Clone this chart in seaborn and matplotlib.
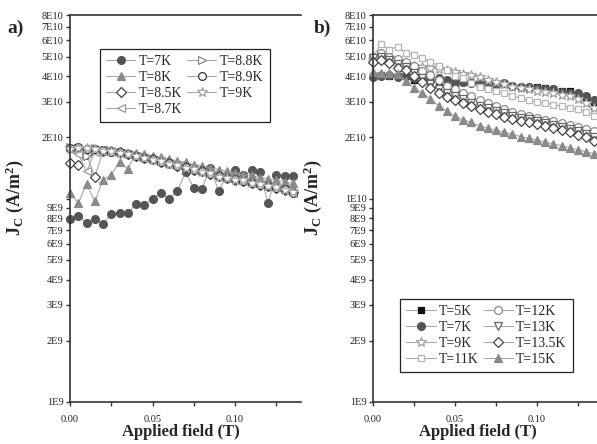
import seaborn as sns
import matplotlib.pyplot as plt
from matplotlib.ticker import FixedLocator, FixedFormatter, NullLocator

# field values (T), same grid for every curve
field = [0.000, 0.005, 0.010, 0.015, 0.020, 0.025, 0.030, 0.035, 0.040, 0.045,
         0.050, 0.055, 0.060, 0.065, 0.070, 0.075, 0.080, 0.085, 0.090, 0.095,
         0.100, 0.105, 0.110, 0.115, 0.120, 0.125, 0.130, 0.135]

# panel a, Jc in units of 1E10 A/m2
a_7K = [0.79, 0.825, 0.76, 0.79, 0.75, 0.84, 0.85, 0.85, 0.94, 0.93, 1.00, 1.07, 1.00, 1.09,
        1.35, 1.13, 1.12, 1.42, 1.09, 1.30, 1.39, 1.30, 1.39, 1.35, 0.95, 1.30, 1.29, 1.29]
a_8K = [1.07, 0.95, 1.18, 0.97, 1.24, 1.31, 1.52, 1.40, 1.68, 1.66, 1.63, 1.60, 1.57, 1.53,
        1.51, 1.47, 1.45, 1.42, 1.39, 1.36, 1.34, 1.31, 1.30, 1.27, 1.25, 1.23, 1.21, 1.19]
a_85K = [1.49, 1.47, 1.65, 1.28, 1.71, 1.72, 1.70, 1.66, 1.63, 1.58, 1.56, 1.52, 1.49, 1.45,
         1.43, 1.39, 1.36, 1.32, 1.29, 1.27, 1.24, 1.22, 1.20, 1.17, 1.15, 1.13, 1.10, 1.08]
a_87K = [1.76, 1.66, 1.36, 1.70, 1.73, 1.71, 1.68, 1.66, 1.62, 1.59, 1.55, 1.53, 1.48, 1.46,
         1.42, 1.40, 1.35, 1.33, 1.29, 1.26, 1.25, 1.22, 1.19, 1.18, 1.15, 1.14, 1.11, 1.07]
a_88K = [1.80, 1.77, 1.62, 1.78, 1.74, 1.72, 1.70, 1.67, 1.64, 1.60, 1.57, 1.54, 1.50, 1.47,
         1.44, 1.41, 1.37, 1.34, 1.30, 1.28, 1.26, 1.24, 1.21, 1.19, 1.17, 1.15, 1.12, 1.09]
a_89K = [1.78, 1.79, 1.76, 1.75, 1.73, 1.70, 1.69, 1.65, 1.63, 1.58, 1.56, 1.52, 1.49, 1.45,
         1.43, 1.39, 1.36, 1.32, 1.29, 1.26, 1.25, 1.22, 1.20, 1.17, 1.16, 1.13, 1.11, 1.07]
a_9K = [1.76, 1.78, 1.77, 1.76, 1.72, 1.71, 1.68, 1.66, 1.62, 1.59, 1.55, 1.53, 1.48, 1.46,
        1.42, 1.40, 1.35, 1.33, 1.28, 1.27, 1.24, 1.23, 1.19, 1.18, 1.15, 1.14, 1.10, 1.08]

# panel b
b_5K = [4.00, 4.05, 4.00, 4.00, 4.00, 3.85, 3.85, 3.95, 3.80, 3.75, 3.60, 3.75, 3.70, 3.60,
        3.55, 3.60, 3.65, 3.60, 3.55, 3.50, 3.55, 3.50, 3.45, 3.40, 3.40, 3.25, 3.15, 2.85]
b_7K = [3.95, 4.00, 4.05, 3.95, 4.00, 3.90, 3.95, 3.80, 3.90, 3.85, 3.80, 3.75, 3.70, 3.75,
        3.70, 3.65, 3.70, 3.60, 3.55, 3.55, 3.50, 3.45, 3.45, 3.35, 3.30, 3.30, 3.20, 3.05]
b_9K = [4.80, 5.00, 4.90, 4.70, 4.60, 4.50, 4.45, 4.40, 4.35, 4.30, 4.20, 4.10, 4.05, 3.95,
        3.85, 3.75, 3.65, 3.55, 3.50, 3.45, 3.40, 3.35, 3.30, 3.25, 3.20, 3.10, 2.95, 2.80]
b_11K = [5.00, 5.75, 5.40, 5.60, 5.20, 5.10, 4.90, 4.70, 4.50, 4.30, 4.00, 3.90, 3.70, 3.55,
         3.45, 3.38, 3.30, 3.20, 3.12, 3.05, 3.00, 2.95, 2.90, 2.85, 2.80, 2.75, 2.68, 2.55]
b_12K = [5.00, 5.20, 5.00, 4.85, 4.70, 4.50, 4.25, 4.05, 3.85, 3.60, 3.45, 3.30, 3.20, 3.05,
         2.95, 2.85, 2.75, 2.68, 2.62, 2.56, 2.50, 2.45, 2.40, 2.35, 2.30, 2.25, 2.20, 2.15]
b_13K = [4.90, 4.95, 4.80, 4.60, 4.45, 4.15, 3.90, 3.65, 3.45, 3.30, 3.20, 3.10, 2.95, 2.85,
         2.78, 2.70, 2.63, 2.56, 2.50, 2.46, 2.41, 2.36, 2.31, 2.26, 2.20, 2.14, 2.08, 2.00]
b_135K = [4.70, 4.80, 4.65, 4.40, 4.30, 4.00, 3.75, 3.50, 3.30, 3.17, 3.07, 2.97, 2.85, 2.75,
          2.67, 2.60, 2.53, 2.47, 2.42, 2.38, 2.33, 2.28, 2.23, 2.18, 2.12, 2.06, 2.00, 1.92]
b_15K = [4.20, 4.15, 4.15, 4.10, 3.80, 3.50, 3.30, 3.10, 2.86, 2.70, 2.54, 2.44, 2.37, 2.28,
         2.22, 2.17, 2.12, 2.07, 2.02, 1.98, 1.94, 1.90, 1.86, 1.82, 1.78, 1.74, 1.70, 1.66]

ytick_vals = [1e9, 2e9, 3e9, 4e9, 5e9, 6e9, 7e9, 8e9, 9e9,
              1e10, 2e10, 3e10, 4e10, 5e10, 6e10, 7e10, 8e10]
ytick_labels = ["1E9", "2E9", "3E9", "4E9", "5E9", "6E9", "7E9", "8E9", "9E9",
                "1E10", "2E10", "3E10", "4E10", "5E10", "6E10", "7E10", "8E10"]
xtick_vals = [0.00, 0.05, 0.10]
xtick_labels = ["0.00", "0.05", "0.10"]

# (label, values, marker, face, edge)
series_a = [
    ("T=7K", a_7K, "o", "#555555", "#555555"),
    ("T=8K", a_8K, "^", "#8a8a8a", "#8a8a8a"),
    ("T=8.5K", a_85K, "D", "white", "#444444"),
    ("T=8.7K", a_87K, "<", "white", "#9a9a9a"),
    ("T=8.8K", a_88K, ">", "white", "#8a8a8a"),
    ("T=8.9K", a_89K, "o", "white", "#333333"),
    ("T=9K", a_9K, "*", "white", "#a0a0a0"),
]
series_b = [
    ("T=5K", b_5K, "s", "#111111", "#111111"),
    ("T=7K", b_7K, "o", "#555555", "#555555"),
    ("T=9K", b_9K, "*", "white", "#a0a0a0"),
    ("T=11K", b_11K, "s", "white", "#b5b5b5"),
    ("T=12K", b_12K, "o", "white", "#8a8a8a"),
    ("T=13K", b_13K, "v", "white", "#666666"),
    ("T=13.5K", b_135K, "D", "white", "#444444"),
    ("T=15K", b_15K, "^", "#8a8a8a", "#8a8a8a"),
]

sns.set_theme(style="ticks")
plt.rcParams['font.family'] = ['Liberation Serif', 'DejaVu Serif']
plt.rcParams['mathtext.fontset'] = 'custom'
plt.rcParams['mathtext.rm'] = 'Liberation Serif:bold'
plt.rcParams['mathtext.it'] = 'Liberation Serif:bold'

fig = plt.figure(figsize=(5.97, 4.44), dpi=100)
ax_a = fig.add_axes([0.1173, 0.0946, 0.387, 0.8716])
ax_b = fig.add_axes([0.6248, 0.0946, 0.3846, 0.8716])


def draw(ax, series, no_label=()):
    for name, vals, mk, fc, ec in series:
        ms = 5.6
        if mk == "*":
            ms = 7.5
        elif mk == "D":
            ms = 4.8
        elif mk == "s":
            ms = 5.0
        sns.lineplot(x=field, y=[v * 1e10 for v in vals], ax=ax, marker=mk,
                     markersize=ms, markerfacecolor=fc, markeredgecolor=ec,
                     markeredgewidth=0.9, color="#a8a8a8", linewidth=0.8,
                     label=name, clip_on=False, sort=False)
    ax.set_yscale("log")
    ax.set_xlim(0, 0.14)
    ax.set_ylim(1e9, 8e10)
    ax.yaxis.set_major_locator(FixedLocator(ytick_vals))
    labels = ["" if l in no_label else l for l in ytick_labels]
    ax.yaxis.set_major_formatter(FixedFormatter(labels))
    ax.yaxis.set_minor_locator(NullLocator())
    ax.xaxis.set_major_locator(FixedLocator(xtick_vals))
    ax.xaxis.set_major_formatter(FixedFormatter(xtick_labels))
    ax.xaxis.set_minor_locator(FixedLocator([0.025, 0.075, 0.125]))
    ax.tick_params(axis="both", which="both", direction="out", length=3.2,
                   width=1.0, color="#333333", labelcolor="#222222", labelsize=7.5)
    ax.tick_params(axis="y", pad=1.5)
    ax.tick_params(axis="x", pad=6)
    for side in ["left", "bottom", "top"]:
        ax.spines[side].set_color("#333333")
        ax.spines[side].set_linewidth(1.2)
        ax.spines[side].set_visible(True)
    ax.spines["right"].set_visible(False)
    ax.set_xlabel("Applied field (T)", fontsize=12, fontweight="bold")
    ax.set_ylabel(r"J$_\mathrm{C}$ (A/m$^\mathrm{2}$)", fontsize=13, fontweight="bold")


draw(ax_a, series_a, no_label=("1E10",))
draw(ax_b, series_b)
ax_a.yaxis.set_label_coords(-0.19, 0.527)
ax_b.yaxis.set_label_coords(-0.215, 0.527)
ax_a.xaxis.set_label_coords(0.48, -0.058)
ax_b.xaxis.set_label_coords(0.455, -0.058)

leg_kw = dict(ncol=2, fontsize=10, frameon=True, fancybox=False, framealpha=1,
              edgecolor="#222222", handlelength=2.1, columnspacing=0.35,
              handletextpad=0.25, labelspacing=0.2, borderpad=0.45,
              borderaxespad=0.0)
la = ax_a.legend(loc="upper left", bbox_to_anchor=(0.13, 0.912), **leg_kw)
lb = ax_b.legend(loc="lower left", bbox_to_anchor=(0.118, 0.078), **leg_kw)
for lg in (la, lb):
    lg.get_frame().set_linewidth(0.9)

fig.text(0.013, 0.937, "a)", fontsize=14, fontweight="bold", va="center")
fig.text(0.526, 0.937, "b)", fontsize=14, fontweight="bold", va="center")

fig.savefig("out.png", dpi=100)
